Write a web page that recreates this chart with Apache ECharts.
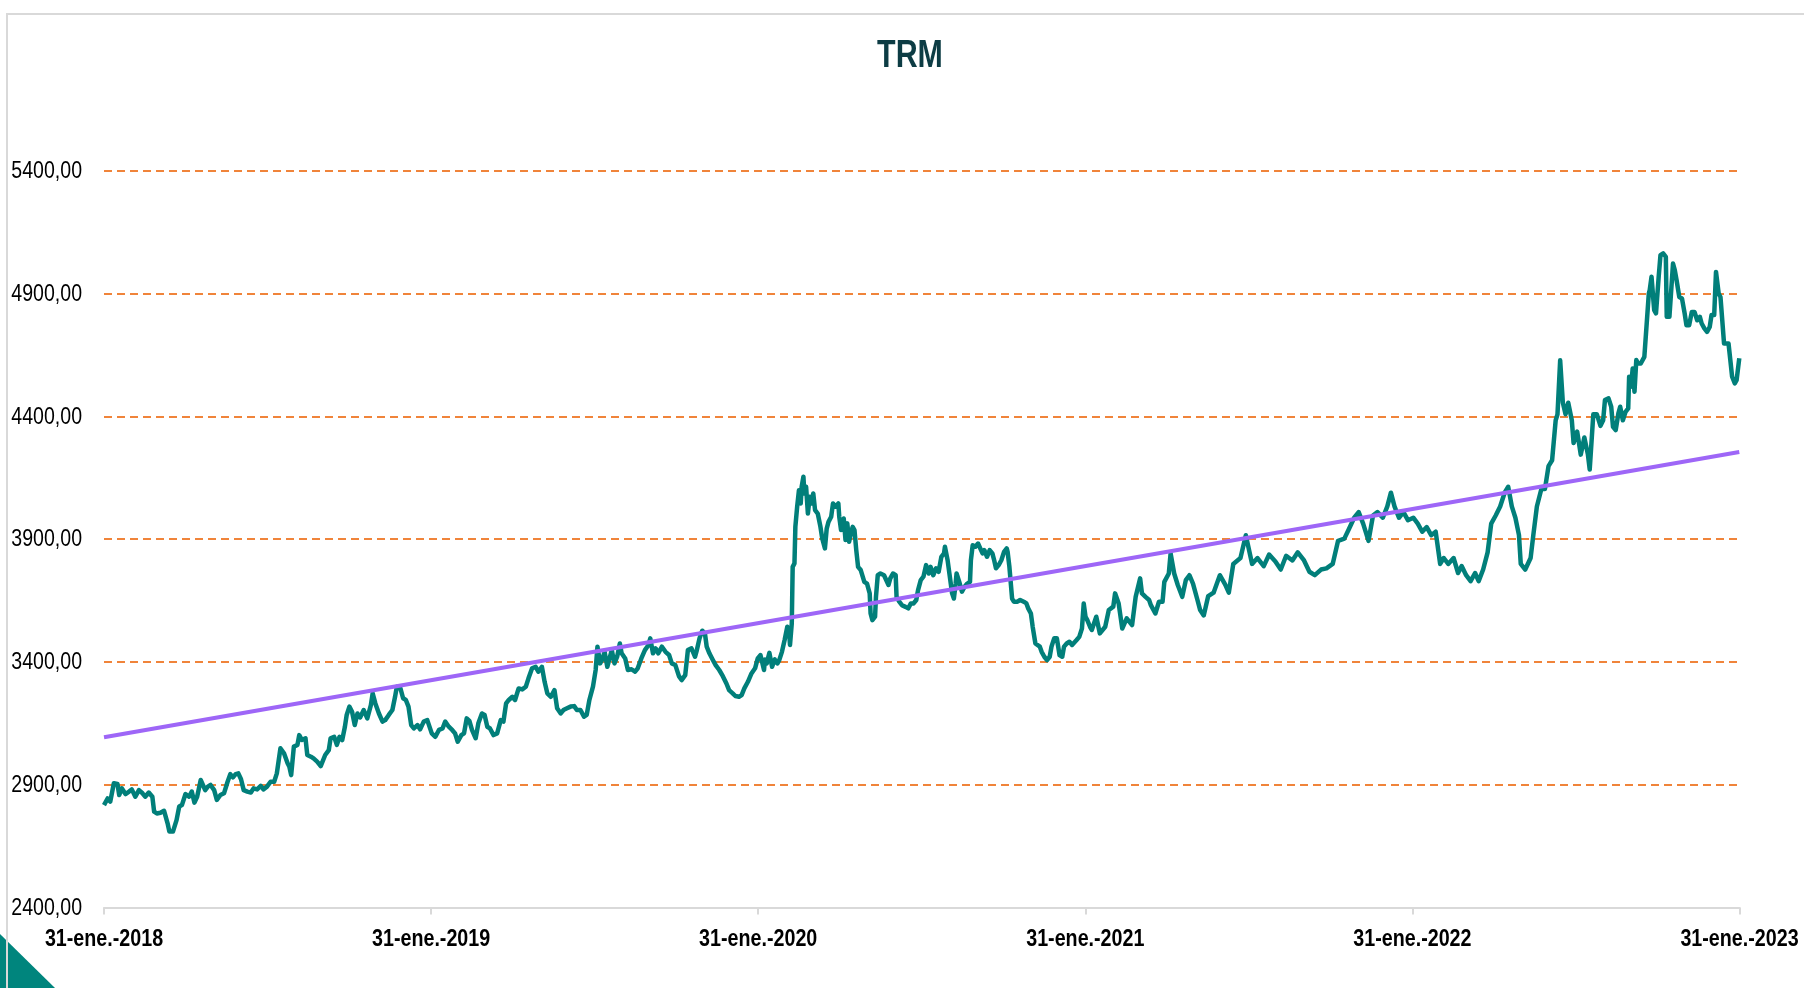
<!DOCTYPE html>
<html>
<head>
<meta charset="utf-8">
<title>TRM</title>
<script src="https://cdn.jsdelivr.net/npm/echarts@6/dist/echarts.min.js"></script>
<style>
  html, body { margin: 0; padding: 0; background: #ffffff; }
  #chart { width: 1804px; height: 988px; }
</style>
</head>
<body>
<div id="chart"></div>
<script>
// TRM diaria (COP por USD). Cada punto: [días desde el 31-ene-2018, valor]
const trm2018 = [[0,2817],[4,2844],[7,2831],[11,2906],[15,2903],[17,2858],[20,2885],[24,2862],[28,2872],[31,2881],[35,2851],[39,2878],[43,2865],[46,2851],[50,2868],[54,2851],[56,2790],[59,2783],[63,2786],[67,2794],[71,2743],[73,2709],[77,2709],[81,2756],[84,2811],[87,2817],[91,2862],[95,2851],[98,2872],[101,2827],[104,2851],[108,2919],[110,2926],[113,2878],[116,2892],[119,2899],[123,2878],[126,2838],[130,2858],[134,2865],[138,2912],[141,2943],[144,2930],[147,2943],[150,2946],[153,2922],[156,2878],[160,2872],[164,2868],[167,2885],[171,2881],[175,2895],[178,2881],[182,2892],[186,2912],[190,2912],[193,2946],[197,3048],[201,3028],[205,2987],[207,2973],[209,2939],[212,3055],[216,3062],[218,3102],[221,3082],[225,3089],[227,3021],[231,3014],[234,3007],[238,2994],[242,2976],[244,2980],[247,3021],[251,3041],[253,3089],[257,3095],[260,3062],[263,3095],[266,3082],[269,3136],[271,3184],[274,3218],[277,3197],[280,3143],[283,3190],[286,3174],[290,3204],[294,3170],[298,3224],[300,3272],[303,3231],[307,3190],[311,3157],[314,3163],[318,3184],[322,3204],[325,3258],[327,3299],[331,3292],[334,3252],[337,3245],[340,3218],[343,3143],[346,3129],[350,3143],[353,3125],[357,3157],[361,3163],[363,3170]];

const trm2019 = [[366,3109],[370,3095],[374,3123],[378,3129],[381,3157],[385,3136],[389,3122],[392,3109],[395,3075],[399,3102],[402,3109],[405,3170],[408,3160],[411,3122],[415,3089],[418,3150],[422,3190],[425,3184],[428,3136],[431,3129],[435,3102],[439,3109],[443,3163],[446,3157],[449,3231],[452,3245],[456,3258],[459,3245],[463,3292],[467,3288],[471,3299],[474,3333],[478,3374],[482,3380],[485,3360],[489,3380],[492,3319],[495,3272],[499,3258],[503,3285],[506,3211],[510,3190],[513,3204],[517,3211],[521,3218],[525,3220],[528,3204],[532,3204],[536,3177],[539,3184],[542,3245],[546,3299],[549,3367],[551,3462],[554,3394],[556,3407],[559,3441],[562,3380],[564,3380],[567,3448],[570,3394],[573,3421],[576,3475],[578,3435],[582,3414],[585,3367],[589,3370],[593,3360],[596,3374],[600,3414],[604,3448],[608,3469],[610,3496],[613,3435],[616,3455],[619,3435],[623,3462],[627,3441],[631,3428],[634,3394],[638,3387],[642,3342],[645,3326],[649,3346],[652,3448],[656,3455],[660,3421],[662,3448],[665,3496],[668,3527],[671,3516],[673,3462],[676,3435],[680,3407],[683,3387],[687,3367],[691,3342],[695,3312],[698,3285],[702,3272],[705,3261],[709,3258],[712,3265],[715,3292],[719,3319],[723,3353],[727,3374]];

const trm2020 = [[730,3414],[733,3428],[737,3367],[738,3410],[740,3394],[743,3437],[746,3380],[749,3410],[752,3394],[754,3407],[757,3441],[760,3489],[763,3543],[765,3523],[766,3469],[768,3557],[769,3787],[771,3801],[772,3950],[774,4032],[776,4099],[778,4045],[779,4113],[781,4154],[782,4086],[784,4113],[786,4004],[788,4072],[790,4045],[792,4086],[794,4018],[797,4004],[800,3950],[802,3903],[805,3862],[807,3943],[809,3970],[812,3991],[814,4045],[817,4032],[820,4045],[821,3991],[823,3937],[826,3984],[828,3896],[830,3964],[832,3889],[834,3923],[836,3950],[838,3937],[840,3855],[842,3787],[845,3774],[847,3781],[849,3726],[852,3719],[855,3679],[856,3597],[858,3570],[861,3584],[862,3665],[864,3753],[867,3760],[871,3753],[873,3760],[876,3713],[878,3740],[881,3760],[884,3753],[885,3665],[888,3645],[891,3631],[895,3624],[898,3618],[901,3638],[904,3638],[907,3652],[909,3692],[912,3733],[915,3747],[918,3794],[921,3760],[923,3787],[926,3753],[929,3781],[932,3767],[935,3828],[938,3842],[939,3869],[942,3814],[944,3760],[947,3679],[949,3658],[951,3719],[952,3760],[955,3726],[958,3686],[961,3706],[964,3719],[967,3726],[968,3814],[970,3875],[973,3869],[976,3882],[978,3875],[981,3842],[983,3855],[986,3828],[989,3855],[992,3842],[994,3814],[996,3781],[999,3794],[1002,3814],[1005,3848],[1008,3862],[1009,3848],[1011,3787],[1014,3658],[1016,3645],[1020,3645],[1023,3652],[1027,3645],[1030,3638],[1032,3618],[1035,3597],[1037,3543],[1040,3475],[1042,3469],[1045,3462],[1047,3441],[1050,3421],[1053,3407],[1056,3421],[1058,3462],[1061,3496],[1064,3496],[1067,3428],[1070,3421],[1072,3462],[1075,3475],[1078,3482],[1081,3469],[1083,3475],[1086,3489],[1089,3502],[1092,3536],[1094,3638]];

const trm2021 = [[1096,3584],[1098,3570],[1101,3543],[1103,3530],[1108,3584],[1112,3516],[1118,3543],[1122,3611],[1127,3625],[1129,3679],[1133,3638],[1137,3536],[1142,3577],[1148,3550],[1152,3665],[1157,3740],[1159,3679],[1163,3665],[1167,3652],[1169,3631],[1174,3597],[1178,3645],[1182,3645],[1184,3726],[1189,3760],[1191,3842],[1195,3760],[1199,3713],[1204,3665],[1208,3733],[1212,3753],[1216,3719],[1221,3652],[1224,3611],[1228,3589],[1233,3668],[1239,3682],[1246,3753],[1252,3715],[1256,3682],[1261,3799],[1269,3823],[1275,3916],[1282,3799],[1288,3823],[1295,3790],[1301,3837],[1308,3809],[1314,3776],[1320,3832],[1327,3813],[1333,3846],[1340,3813],[1346,3767],[1352,3753],[1359,3776],[1365,3781],[1372,3799],[1378,3893],[1385,3902],[1390,3940],[1396,3987],[1401,4010],[1406,3963],[1412,3893],[1417,3996],[1422,4010],[1428,3987],[1433,4033],[1437,4089],[1441,4033],[1446,3987],[1451,4010],[1456,3977]];

const trm2022 = [[1462,3987],[1467,3963],[1472,3930],[1477,3949],[1482,3916],[1487,3930],[1492,3799],[1496,3823],[1501,3799],[1507,3823],[1512,3762],[1516,3790],[1521,3753],[1526,3729],[1531,3762],[1535,3729],[1540,3776],[1545,3846],[1549,3963],[1554,3996],[1559,4033],[1564,4089],[1568,4113],[1572,4033],[1576,3987],[1580,3916],[1582,3799],[1587,3776],[1593,3823],[1596,3916],[1600,4033],[1605,4104],[1609,4104],[1613,4197],[1617,4221],[1621,4384],[1623,4408],[1626,4628],[1629,4455],[1632,4408],[1635,4455],[1639,4384],[1641,4291],[1645,4338],[1649,4244],[1653,4314],[1657,4244],[1659,4183],[1663,4408],[1667,4408],[1671,4361],[1674,4384],[1676,4466],[1680,4473],[1682,4479],[1683,4439],[1685,4357],[1688,4344],[1691,4412],[1693,4439],[1696,4384],[1699,4418],[1702,4432],[1703,4561],[1705,4520],[1707,4595],[1709,4500],[1711,4629],[1713,4615],[1716,4615],[1720,4642],[1722,4642],[1725,4900],[1726,4914],[1728,4968],[1731,4832],[1733,4819],[1734,4819],[1736,4968],[1738,5056],[1741,5063],[1744,5049],[1745,4805],[1748,4805],[1750,4805],[1752,5022],[1754,4995],[1756,4954],[1759,4886],[1762,4880],[1765,4819],[1767,4771],[1770,4771],[1773,4825],[1776,4825],[1777,4832],[1779,4791],[1782,4805],[1784,4778],[1787,4758],[1790,4744],[1793,4764],[1795,4812],[1798,4812],[1799,4900],[1800,4988],[1803,4900],[1805,4886],[1807,4791],[1809,4696],[1811,4696],[1814,4696],[1816,4629],[1817,4629],[1818,4561],[1821,4534],[1823,4547],[1825,4547],[1826,4636]];

// Tendencia lineal: valores al inicio y al final del periodo
const tendenciaInicio = 3093;
const tendenciaFin = 4255;

// Etiquetas del eje de fechas (una por año) y marcas del eje de valores
const etiquetasX = ['31-ene.-2018', '31-ene.-2019', '31-ene.-2020', '31-ene.-2021', '31-ene.-2022', '31-ene.-2023'];
const marcasY = [2400, 2900, 3400, 3900, 4400, 4900, 5400];
const diasFin = 1826;
const diasAnio = 365.25;

const serieTRM = [].concat(trm2018, trm2019, trm2020, trm2021, trm2022);
const serieTendencia = [[0, tendenciaInicio], [diasFin, tendenciaFin]];

// Arial / Liberation Sans comprimida horizontalmente, como una fuente "Narrow"
const fuente = "'Liberation Sans', Arial, sans-serif";

const chart = echarts.init(document.getElementById('chart'), null, { renderer: 'canvas' });

chart.setOption({
  animation: false,
  backgroundColor: '#ffffff',
  grid: {
    left: 104,
    right: 64.5,
    top: 170.7,
    bottom: 80.5,
    containLabel: false,
    outerBoundsMode: 'none'
  },
  xAxis: {
    type: 'value',
    min: 0,
    max: diasAnio * 5,
    interval: diasAnio,
    axisLine: { show: true, lineStyle: { color: '#d9d9d9', width: 2 } },
    axisTick: { show: true, inside: false, length: 7, lineStyle: { color: '#d9d9d9', width: 2 } },
    splitLine: { show: false },
    axisLabel: { show: false }
  },
  yAxis: {
    type: 'value',
    min: 2400,
    max: 5400,
    interval: 500,
    axisLine: { show: false },
    axisTick: { show: false },
    axisLabel: { show: false },
    splitLine: {
      show: true,
      showMinLine: false,
      lineStyle: { color: '#F0843A', width: 2, type: [8, 5] }
    }
  },
  series: [
    {
      name: 'TRM',
      type: 'line',
      data: serieTRM,
      showSymbol: false,
      symbol: 'none',
      z: 2,
      lineStyle: { color: '#017F7A', width: 4.5, join: 'round' }
    },
    {
      name: 'Tendencia',
      type: 'line',
      data: serieTendencia,
      showSymbol: false,
      symbol: 'none',
      z: 3,
      lineStyle: { color: '#9E66F7', width: 4 }
    }
  ]
});

// Etiquetas de los ejes, ubicadas con la escala del propio gráfico
const graficos = [
  {
    type: 'polygon',
    z: 1,
    shape: { points: [[0, 934], [55, 988], [0, 988]] },
    style: { fill: '#00857D' }
  },
  {
    type: 'rect',
    z: 2,
    shape: { x: 7, y: 14, width: 1900, height: 1100 },
    style: { fill: 'none', stroke: '#d9d9d9', lineWidth: 2 }
  },
  {
    type: 'text',
    z: 3,
    x: 910,
    y: 57,
    scaleX: 0.8,
    style: {
      text: 'TRM',
      align: 'center',
      verticalAlign: 'middle',
      font: 'bold 38px ' + fuente,
      fill: '#0D3C44'
    }
  }
];

marcasY.forEach(function (v) {
  const p = chart.convertToPixel({ gridIndex: 0 }, [0, v]);
  graficos.push({
    type: 'text',
    z: 3,
    x: p[0] - 22,
    y: p[1] + 1,
    scaleX: 0.85,
    style: {
      text: v.toFixed(2).replace('.', ','),
      align: 'right',
      verticalAlign: 'middle',
      font: '23px ' + fuente,
      fill: '#000000'
    }
  });
});

etiquetasX.forEach(function (txt, i) {
  const p = chart.convertToPixel({ gridIndex: 0 }, [i * diasAnio, 2400]);
  graficos.push({
    type: 'text',
    z: 3,
    x: p[0],
    y: p[1] + 32,
    scaleX: 0.82,
    style: {
      text: txt,
      align: 'center',
      verticalAlign: 'middle',
      font: 'bold 24px ' + fuente,
      fill: '#000000'
    }
  });
});

chart.setOption({ graphic: graficos });
</script>
</body>
</html>
